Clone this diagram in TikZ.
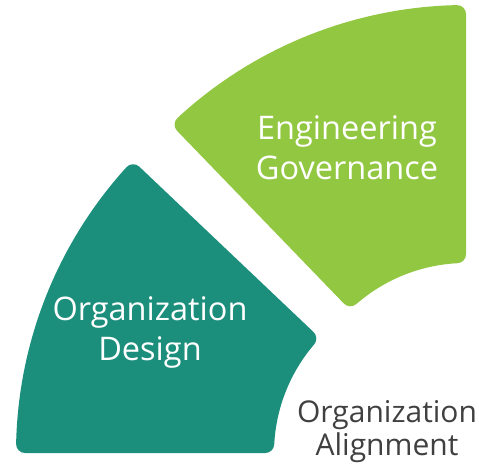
\documentclass[tikz,border=0pt]{standalone}
\usepackage{fontspec}
\setmainfont{Open Sans}
\usetikzlibrary{calc}
\definecolor{govgreen}{HTML}{92C742}
\definecolor{designteal}{HTML}{1C8F7C}
\definecolor{labelgray}{HTML}{404040}
% Annular sector with rounded corners: the sector is shrunk by the corner
% radius (9pt) and then filled and stroked with a round-joined 18pt line.
\newcommand\sectorshape[6]{% #1 colour, #2 centre, #3 start angle, #4 end angle, #5 outer radius, #6 inner radius
  \filldraw[#1, line width=18pt, line join=round]
    ($(#2)+({#3+asin(9/(#5-9))}:{#5-9})$)
    arc[start angle={#3+asin(9/(#5-9))}, end angle={#4-asin(9/(#5-9))}, radius={#5-9}]
    -- ($(#2)+({#4-asin(9/(#6+9))}:{#6+9})$)
    arc[start angle={#4-asin(9/(#6+9))}, end angle={#3+asin(9/(#6+9))}, radius={#6+9}]
    -- cycle;}
\begin{document}
\begin{tikzpicture}[x=1pt,y=1pt,
  inlabel/.style={text=white, font=\fontsize{32.5}{40}\selectfont, align=center, inner sep=0pt},
  outlabel/.style={text=labelgray, font=\fontsize{30}{33}\selectfont, align=center, inner sep=0pt}]
\useasboundingbox (0,0) rectangle (479,465);
% centres of the two ring segments
\coordinate (govc) at (466,35);
\coordinate (desc) at (441,12);
\sectorshape{govgreen}{govc}{90}{134}{425}{167}
\sectorshape{designteal}{desc}{136.5}{180}{425}{167}
% labels
\node[inlabel] (gov) at (347,317) {Engineering\\Governance};
\node[inlabel] (design) at (150,133) {Organization\\Design};
\node[outlabel] (align) at (387,33) {Organization\\Alignment};
\end{tikzpicture}
\end{document}
